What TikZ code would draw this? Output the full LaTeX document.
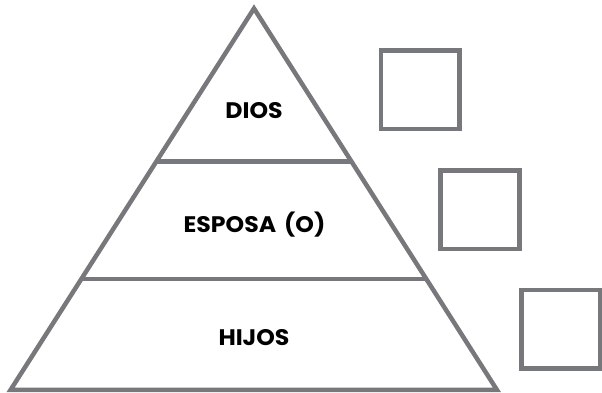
\documentclass[tikz,border=0pt]{standalone}
\usepackage{fontspec}
\newfontfamily\labelfont[FakeStretch=1.05]{Poppins}
\usetikzlibrary{calc}
\definecolor{linegray}{HTML}{77787B}
\tikzset{
  outline/.style={draw=linegray, line width=4.5pt, line join=miter},
  tick/.style={draw=linegray, line width=4.5pt, minimum width=78.7pt, minimum height=78.5pt, inner sep=0pt, outer sep=0pt},
  level/.style={font=\labelfont\bfseries\fontsize{22.5}{26}\selectfont, text=black, inner sep=0pt}
}
\begin{document}
\begin{tikzpicture}[x=1pt,y=1pt]
\useasboundingbox (0,0) rectangle (602,393);
\coordinate (apex) at (254,384.5);
\coordinate (bl) at (10.5,3);
\coordinate (br) at (497,3);
\draw[outline] (apex) -- (bl) -- (br) -- cycle;
\coordinate (l1) at ($(apex)!0.4016!(bl)$);
\coordinate (r1) at ($(apex)!0.4016!(br)$);
\coordinate (l2) at ($(apex)!0.709!(bl)$);
\coordinate (r2) at ($(apex)!0.709!(br)$);
\draw[outline] (l1) -- (r1);
\draw[outline] (l2) -- (r2);
\node[level] (dios) at (254,282) {DIOS};
\node[level] (esposa) at (254.5,168) {ESPOSA\hspace{3pt} (O)};
\node[level] (hijos) at (254,55.3) {HIJOS};
\node[tick] (box1) at (420.35,303.15) {};
\node[tick] (box2) at (480,183.35) {};
\node[tick] (box3) at (561,63.5) {};
\end{tikzpicture}
\end{document}
